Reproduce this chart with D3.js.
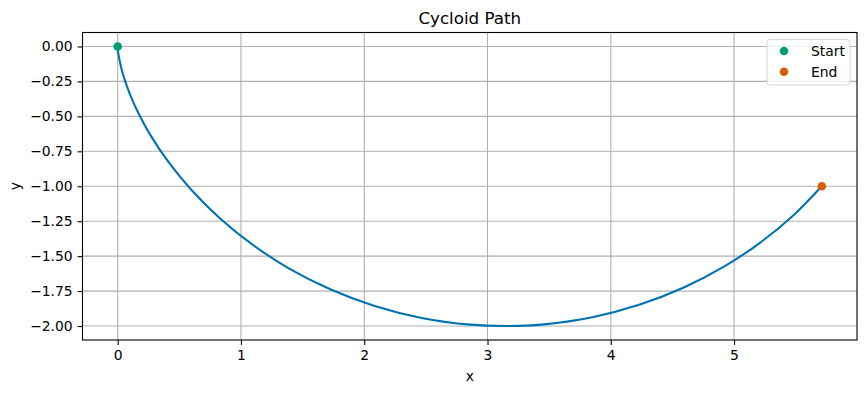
<!DOCTYPE html>
<html>
<head>
<meta charset="utf-8">
<script src="https://cdn.jsdelivr.net/npm/d3@7"></script>
<style>
  html, body { margin: 0; padding: 0; background: #fff; }
  svg { display: block; font-family: "DejaVu Sans", sans-serif; }
</style>
</head>
<body>
<svg id="chart" width="866" height="393"></svg>
<script>
// Path points
const pathX = [0, 0.0002, 0.0013, 0.0045, 0.0106, 0.0206, 0.0354, 0.0558, 0.0826, 0.1167, 0.1585,
  0.268, 0.4146, 0.6004, 0.8262, 1.0907, 1.3915, 1.7245, 2.0845, 2.465, 2.859, 3.142,
  3.458, 3.851, 4.230, 4.588, 4.918, 5.216, 5.478, 5.712];
const pathY = [0, -0.005, -0.020, -0.045, -0.079, -0.122, -0.175, -0.235, -0.303, -0.378, -0.460,
  -0.638, -0.830, -1.029, -1.227, -1.416, -1.589, -1.737, -1.857, -1.942, -1.990, -2.0,
  -1.988, -1.937, -1.848, -1.726, -1.575, -1.401, -1.211, -1.0];
const startPoint = [0, 0];
const endPoint = [5.712, -1.0];
const xTicks = [0, 1, 2, 3, 4, 5];
const yTicks = [0, -0.25, -0.5, -0.75, -1.0, -1.25, -1.5, -1.75, -2.0];
const legendLabels = ["Start", "End"];
const colors = { line: "#0072B2", start: "#009E73", end: "#D55E00" };

const svg = d3.select("#chart");
const L = 82.5, R = 857, T = 32.5, B = 340;
const x = d3.scaleLinear().domain([-0.2856, 5.9976]).range([L, R]);
const y = d3.scaleLinear().domain([0.1, -2.1]).range([T, B]);

// grid
const grid = svg.append("g");
xTicks.forEach(t => grid.append("line")
  .attr("x1", x(t)).attr("x2", x(t)).attr("y1", T).attr("y2", B)
  .attr("stroke", "#b0b0b0").attr("stroke-width", 1.1));
yTicks.forEach(t => grid.append("line")
  .attr("x1", L).attr("x2", R).attr("y1", y(t)).attr("y2", y(t))
  .attr("stroke", "#b0b0b0").attr("stroke-width", 1.1));

// axes
const fmtY = d => (d < 0 ? "\u2212" : "") + Math.abs(d).toFixed(2);
const xAxis = d3.axisBottom(x).tickValues(xTicks).tickSize(4.9).tickPadding(4.9).tickFormat(d3.format("d"));
const yAxis = d3.axisLeft(y).tickValues(yTicks).tickSize(4.9).tickPadding(4.9).tickFormat(fmtY);
const gx = svg.append("g").attr("transform", `translate(0,${B})`).call(xAxis);
const gy = svg.append("g").attr("transform", `translate(${L},0)`).call(yAxis);
[gx, gy].forEach(g => {
  g.select(".domain").remove();
  g.selectAll(".tick line").attr("stroke", "#000").attr("stroke-width", 1.1);
  g.selectAll(".tick text").attr("fill", "#000").style("font-size", "13.9px").style("font-family", "DejaVu Sans");
});

// frame
svg.append("rect").attr("x", L).attr("y", T).attr("width", R - L).attr("height", B - T)
  .attr("fill", "none").attr("stroke", "#000").attr("stroke-width", 1.1);

// curve
const pts = pathX.map((v, i) => [v, pathY[i]]);
svg.append("path").datum(pts)
  .attr("d", d3.line().x(d => x(d[0])).y(d => y(d[1])).curve(d3.curveCatmullRom.alpha(0.5)))
  .attr("fill", "none").attr("stroke", colors.line).attr("stroke-width", 2.08);

// markers
svg.append("circle").attr("cx", x(startPoint[0])).attr("cy", y(startPoint[1])).attr("r", 4.3).attr("fill", colors.start);
svg.append("circle").attr("cx", x(endPoint[0])).attr("cy", y(endPoint[1])).attr("r", 4.3).attr("fill", colors.end);

// title & labels
svg.append("text").attr("x", (L + R) / 2).attr("y", 24).attr("text-anchor", "middle")
  .style("font-size", "16.7px").text("Cycloid Path");
svg.append("text").attr("x", (L + R) / 2).attr("y", 381).attr("text-anchor", "middle")
  .style("font-size", "13.9px").text("x");
svg.append("text").attr("transform", `translate(20,${(T + B) / 2}) rotate(-90)`).attr("text-anchor", "middle")
  .style("font-size", "13.9px").text("y");

// legend
const lg = svg.append("g");
lg.append("rect").attr("x", 767).attr("y", 39.5).attr("width", 83).attr("height", 45.5).attr("rx", 3)
  .attr("fill", "#fff").attr("fill-opacity", 0.8).attr("stroke", "#d6d6d6").attr("stroke-width", 1);
[colors.start, colors.end].forEach((c, i) => {
  const cy = 51 + i * 20.8;
  lg.append("circle").attr("cx", 784).attr("cy", cy).attr("r", 4.3).attr("fill", c);
  lg.append("text").attr("x", 811).attr("y", cy + 5).style("font-size", "13.9px").text(legendLabels[i]);
});
</script>
</body>
</html>
